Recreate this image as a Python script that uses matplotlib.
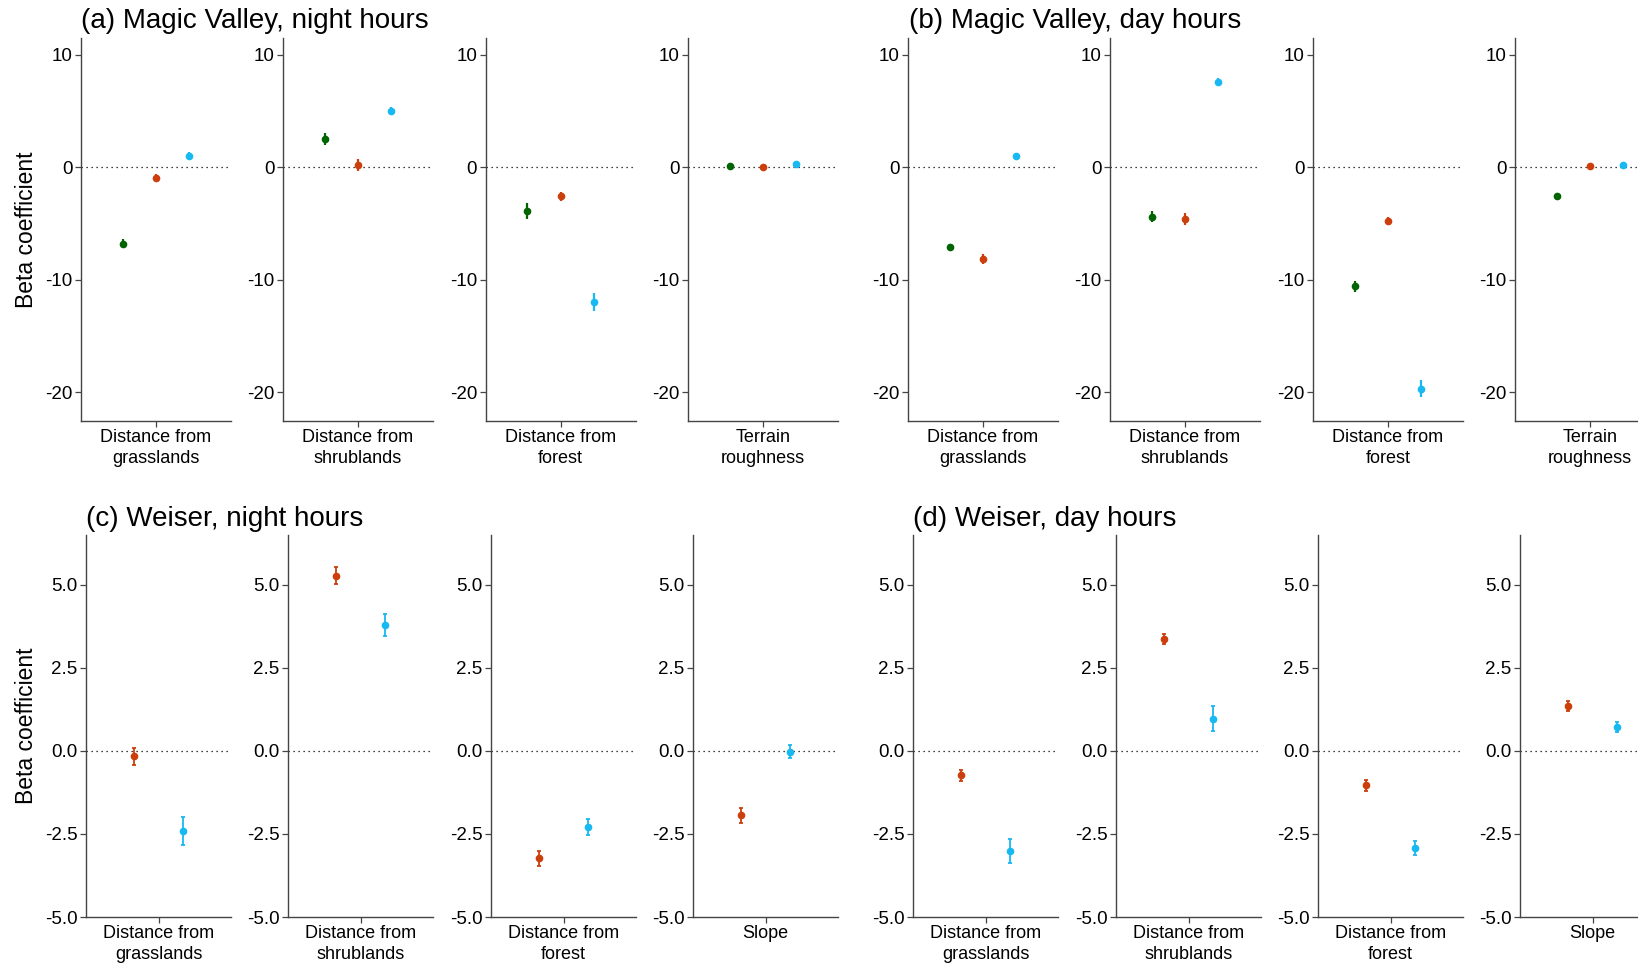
import numpy as np
import matplotlib
matplotlib.use("Agg")
import matplotlib.pyplot as plt

plt.rcParams['font.family'] = ['Liberation Sans', 'DejaVu Sans']
plt.rcParams['axes.unicode_minus'] = False

# covariates (x labels)
mv_vars = ["Distance from\ngrasslands", "Distance from\nshrublands", "Distance from\nforest", "Terrain\nroughness"]
we_vars = ["Distance from\ngrasslands", "Distance from\nshrublands", "Distance from\nforest", "Slope"]

# Magic Valley: three groups (green, orange, blue)
mv_night_green = [-6.80, 2.52, -3.89, 0.12]
mv_night_orange = [-0.92, 0.21, -2.55, 0.03]
mv_night_blue = [1.04, 5.01, -11.96, 0.33]
mv_night_green_se = [0.40, 0.55, 0.70, 0.15]
mv_night_orange_se = [0.30, 0.55, 0.40, 0.15]
mv_night_blue_se = [0.30, 0.35, 0.80, 0.20]

mv_day_green = [-7.09, -4.39, -10.56, -2.52]
mv_day_orange = [-8.13, -4.60, -4.75, 0.15]
mv_day_blue = [0.98, 7.60, -19.67, 0.24]
mv_day_green_se = [0.30, 0.50, 0.50, 0.20]
mv_day_orange_se = [0.45, 0.55, 0.35, 0.15]
mv_day_blue_se = [0.25, 0.35, 0.75, 0.25]

# Weiser: two groups (orange, blue)
we_night_orange = [-0.16, 5.28, -3.23, -1.94]
we_night_blue = [-2.42, 3.79, -2.30, -0.02]
we_night_orange_se = [0.25, 0.26, 0.22, 0.22]
we_night_blue_se = [0.42, 0.34, 0.24, 0.19]

we_day_orange = [-0.74, 3.37, -1.04, 1.35]
we_day_blue = [-3.00, 0.97, -2.91, 0.73]
we_day_orange_se = [0.17, 0.16, 0.17, 0.15]
we_day_blue_se = [0.36, 0.37, 0.21, 0.15]

GREEN = '#006400'
ORANGE = '#CC3F0C'
BLUE = '#18B8F2'

W, H = 1638, 965
fig = plt.figure(figsize=(W / 100, H / 100), dpi=100)

top_lefts = [81, 283, 485.5, 688, 908, 1110, 1313, 1515]
bot_lefts = [86, 288, 491, 693, 913, 1116, 1318, 1520]


def panel(left, top, bottom, width, label, series, ylim, yticks, ylabs, caps, lw):
    ax = fig.add_axes([left / W, 1 - bottom / H, width / W, (bottom - top) / H])
    n = len(series)
    offs = (np.arange(n) - (n - 1) / 2) * 0.8 / n
    for (est, se, col), o in zip(series, offs):
        ax.errorbar(1 + o, est, yerr=se, fmt='o', color=col, ms=4.5, elinewidth=lw,
                    capsize=caps, capthick=lw, mec=col, zorder=3)
    ax.axhline(0, color='black', lw=0.9, dashes=(1, 3), zorder=1)
    ax.set_xlim(0.4, 1.6)
    ax.set_ylim(*ylim)
    ax.set_xticks([1])
    ax.set_xticklabels([label], fontsize=13, color='black', linespacing=1.25)
    ax.set_yticks(yticks)
    ax.set_yticklabels(ylabs, fontsize=13.5, color='black')
    for s in ['top', 'right']:
        ax.spines[s].set_visible(False)
    for s in ['left', 'bottom']:
        ax.spines[s].set_color('#444444')
        ax.spines[s].set_linewidth(1.0)
    ax.tick_params(length=4, width=0.9, color='#444444', pad=2)
    return ax


top_ticks = [-20, -10, 0, 10]
top_labs = [str(t) for t in top_ticks]
bot_ticks = [-5.0, -2.5, 0.0, 2.5, 5.0]
bot_labs = ['%.1f' % t for t in bot_ticks]

mv_sets = [
    (mv_night_green, mv_night_green_se, mv_night_orange, mv_night_orange_se, mv_night_blue, mv_night_blue_se),
    (mv_day_green, mv_day_green_se, mv_day_orange, mv_day_orange_se, mv_day_blue, mv_day_blue_se),
]
we_sets = [
    (we_night_orange, we_night_orange_se, we_night_blue, we_night_blue_se),
    (we_day_orange, we_day_orange_se, we_day_blue, we_day_blue_se),
]

# top row: Magic Valley
for k, (g, gse, o, ose, b, bse) in enumerate(mv_sets):
    for i in range(4):
        ax = panel(top_lefts[k * 4 + i], 38, 421, 150, mv_vars[i],
                   [(g[i], gse[i], GREEN), (o[i], ose[i], ORANGE), (b[i], bse[i], BLUE)],
                   (-22.55, 11.5), top_ticks, top_labs, 0, 1.6)
        if k == 0 and i == 0:
            ax.set_ylabel('Beta coefficient', fontsize=16.5, labelpad=5)

# bottom row: Weiser
for k, (o, ose, b, bse) in enumerate(we_sets):
    for i in range(4):
        ax = panel(bot_lefts[k * 4 + i], 535, 917, 145, we_vars[i],
                   [(o[i], ose[i], ORANGE), (b[i], bse[i], BLUE)],
                   (-5.0, 6.5), bot_ticks, bot_labs, 1.5, 1.3)
        if k == 0 and i == 0:
            ax.set_ylabel('Beta coefficient', fontsize=16.5, labelpad=5)

fig.text(81 / W, 1 - 28 / H, '(a) Magic Valley, night hours', fontsize=20, va='baseline')
fig.text(909 / W, 1 - 28 / H, '(b) Magic Valley, day hours', fontsize=20, va='baseline')
fig.text(86 / W, 1 - 526 / H, '(c) Weiser, night hours', fontsize=20, va='baseline')
fig.text(913 / W, 1 - 526 / H, '(d) Weiser, day hours', fontsize=20, va='baseline')

fig.savefig('out.png', dpi=100)
